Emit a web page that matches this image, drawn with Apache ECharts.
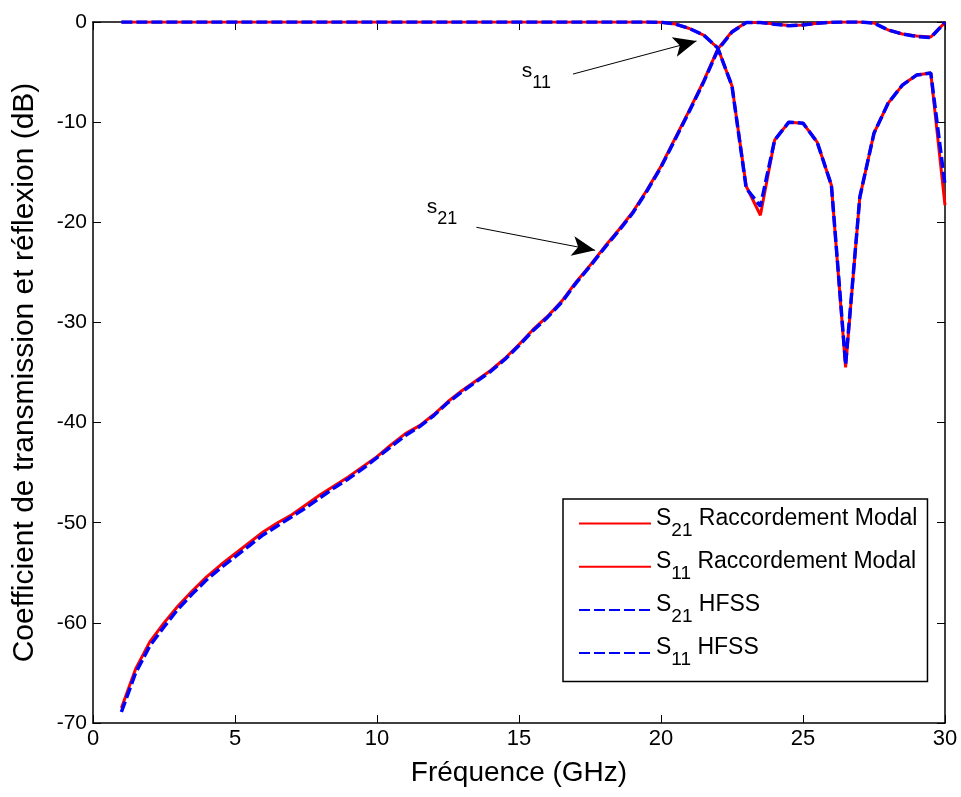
<!DOCTYPE html>
<html>
<head>
<meta charset="utf-8">
<script src="https://cdn.jsdelivr.net/npm/echarts@6/dist/echarts.min.js"></script>
<style>html,body{margin:0;padding:0;background:#fff}#c{width:961px;height:797px}</style>
</head>
<body>
<div id="c"></div>
<script>
// ---- data ----
const freq = [1,1.5,2,2.5,3,3.5,4,4.5,5,5.5,6,6.5,7,7.5,8,8.5,9,9.5,10,10.5,11,11.5,12,12.5,13,13.5,14,14.5,15,15.5,16,16.5,17,17.5,18,18.5,19,19.5,20,20.5,21,21.5,22,22.5,23,23.5,24,24.5,25,25.5,26,26.5,27,27.5,28,28.5,29,29.5,30];

const s21Modal = [-68.5,-64.6,-61.9,-60.0,-58.3,-56.8,-55.4,-54.2,-53.1,-52.0,-50.9,-50.0,-49.2,-48.2,-47.2,-46.3,-45.4,-44.4,-43.4,-42.2,-41.1,-40.3,-39.2,-37.9,-36.8,-35.8,-34.8,-33.6,-32.2,-30.7,-29.4,-27.9,-26.0,-24.3,-22.5,-20.8,-19.0,-16.8,-14.4,-11.6,-8.8,-5.9,-2.7,-0.95,-0.05,-0.05,-0.2,-0.35,-0.3,-0.12,-0.02,0,0,-0.1,-0.8,-1.2,-1.4,-1.5,-0.05];

const s11Modal = [0,0,0,0,0,0,0,0,0,0,0,0,0,0,0,0,0,0,0,0,0,0,0,0,0,0,0,0,0,0,0,0,0,0,0,0,0,0,-0.02,-0.2,-0.65,-1.3,-2.6,-6.4,-16.4,-19.3,-11.8,-10.0,-10.1,-12.0,-16.3,-34.5,-17.5,-11.1,-8.1,-6.3,-5.3,-5.1,-18.3];

const s21HFSS = [-68.9,-65.0,-62.3,-60.4,-58.6,-57.1,-55.7,-54.5,-53.4,-52.3,-51.2,-50.3,-49.4,-48.5,-47.5,-46.5,-45.6,-44.6,-43.5,-42.4,-41.3,-40.4,-39.3,-38.0,-36.9,-35.9,-34.9,-33.7,-32.3,-30.8,-29.5,-28.0,-26.1,-24.4,-22.6,-20.9,-19.1,-16.9,-14.5,-11.7,-8.9,-6.0,-2.8,-1.0,-0.06,-0.05,-0.22,-0.37,-0.3,-0.13,-0.02,0,0,-0.11,-0.8,-1.2,-1.45,-1.55,-0.05];

const s11HFSS = [0,0,0,0,0,0,0,0,0,0,0,0,0,0,0,0,0,0,0,0,0,0,0,0,0,0,0,0,0,0,0,0,0,0,0,0,0,0,-0.02,-0.2,-0.65,-1.3,-2.6,-6.4,-16.6,-18.4,-11.8,-10.0,-10.1,-12.0,-16.3,-34.2,-17.5,-11.1,-8.1,-6.3,-5.3,-5.1,-16.3];

const seriesNames = ['S21 Raccordement Modal','S11 Raccordement Modal','S21 HFSS','S11 HFSS'];
const xTicks = {min:0, max:30, interval:5};
const yTicks = {min:-70, max:0, interval:10};

// annotation arrows [from, to] in data units, and labels
const arrowFrom = [[16.9,-5.2],[13.5,-20.5]];
const arrowTo = [[21.25,-1.9],[17.68,-22.8]];
const annoText = ['11','21'];
const annoPos = [[15.1,-5.4],[11.75,-19.0]];

// ---- chart ----
const FF = '"Liberation Sans", Arial, Helvetica, sans-serif';
const chart = echarts.init(document.getElementById('c'), null, {renderer:'canvas'});

const pair = (ys) => freq.map((x,i)=>[x, ys[i]]);

function axisBase(extra){
  return Object.assign({
    type:'value',
    axisLine:{show:true, onZero:false, lineStyle:{color:'#000', width:1.5}},
    axisTick:{show:true, inside:true, length:8, lineStyle:{color:'#000', width:1}},
    splitLine:{show:false},
  }, extra);
}

const redStyle = {color:'#ff0000', width:3, type:'solid'};
const blueStyle = {color:'#0000ff', width:3.5, type:[11,4]};

const series = [
  {name:seriesNames[0], data:pair(s21Modal), lineStyle:redStyle, color:'#ff0000',
   markLine:{silent:true, symbol:['none','arrow'], symbolSize:[15,23], animation:false,
     lineStyle:{color:'#000', width:1, type:'solid'}, label:{show:false},
     data: arrowFrom.map((f,i)=>[{coord:f},{coord:arrowTo[i]}])}},
  {name:seriesNames[1], data:pair(s11Modal), lineStyle:redStyle, color:'#ff0000'},
  {name:seriesNames[2], data:pair(s21HFSS), lineStyle:blueStyle, color:'#0000ff'},
  {name:seriesNames[3], data:pair(s11HFSS), lineStyle:blueStyle, color:'#0000ff'}
].map(s => Object.assign({type:'line', symbol:'none', showSymbol:false, xAxisIndex:0, yAxisIndex:0, animation:false, z:2}, s));

const option = {
  animation:false,
  backgroundColor:'#fff',
  grid:{left:93, top:22, right:16, bottom:74},
  xAxis:[
    axisBase(Object.assign({position:'bottom',
      axisLabel:{fontSize:22, color:'#000', margin:5, fontFamily:FF},
      name:'Fréquence (GHz)', nameLocation:'middle', nameGap:36,
      nameTextStyle:{fontSize:28, color:'#000', fontFamily:FF}}, xTicks)),
    axisBase(Object.assign({position:'top', axisLabel:{show:false}}, xTicks))
  ],
  yAxis:[
    axisBase(Object.assign({position:'left',
      axisLabel:{fontSize:21, color:'#000', margin:6, fontFamily:FF},
      name:'Coefficient de transmission et réflexion (dB)', nameLocation:'middle', nameGap:53,
      nameTextStyle:{fontSize:30, color:'#000', fontFamily:FF}}, yTicks)),
    axisBase(Object.assign({position:'right', axisLabel:{show:false}}, yTicks))
  ],
  legend:{
    orient:'vertical', left:563, top:499,
    data:seriesNames,
    itemWidth:72, itemHeight:2, itemGap:10.2,
    itemStyle:{opacity:0},
    padding:[8,10,12,15],
    backgroundColor:'#fff', borderColor:'#000', borderWidth:1.5,
    selectedMode:false,
    formatter: n => n.replace(/^S(\d+) (.*)$/, '{b|S}{s|$1}{b| $2}'),
    textStyle:{color:'#000', fontFamily:FF, fontSize:23,
      rich:{
        b:{fontSize:23, fontFamily:FF, color:'#000', lineHeight:27, verticalAlign:'top'},
        s:{fontSize:19, fontFamily:FF, color:'#000', padding:[14,0,0,0], verticalAlign:'top'}
      }}
  },
  series: series
};
chart.setOption(option);

const graphics = annoPos.map((p,i)=>{
  const px = chart.convertToPixel({gridIndex:0}, p);
  return {type:'text', x:px[0], y:px[1], silent:true, z:10,
    style:{text:'{b|s}{s|'+annoText[i]+'}', verticalAlign:'middle', align:'left',
      rich:{
        b:{fontSize:21, fontFamily:FF, fill:'#000', lineHeight:24, verticalAlign:'top'},
        s:{fontSize:18, fontFamily:FF, fill:'#000', padding:[13,0,0,0], verticalAlign:'top'}
      }}};
});
chart.setOption({graphic:graphics});
</script>
</body>
</html>
